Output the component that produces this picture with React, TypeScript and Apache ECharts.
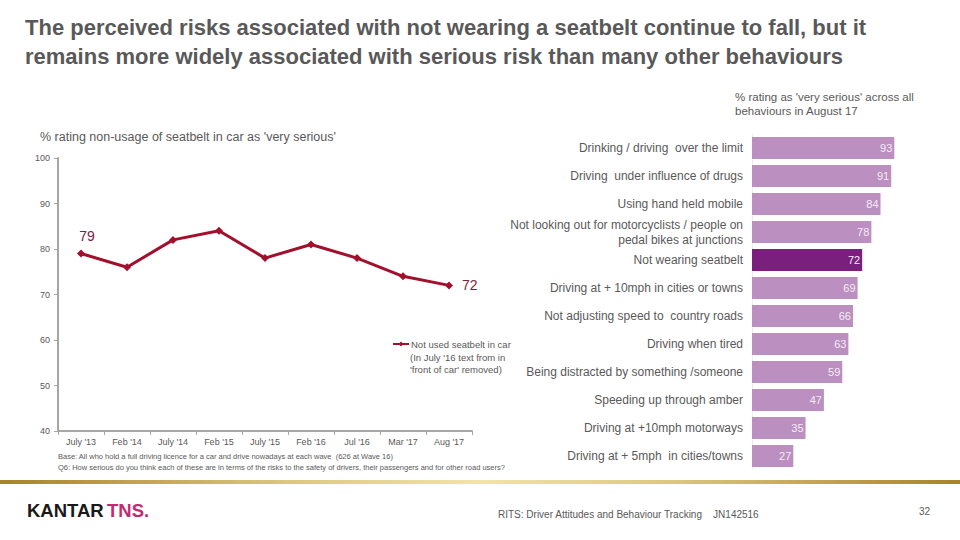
import React, { useEffect, useRef } from "react";
import * as echarts from "echarts";

const waves = ["July '13", "Feb '14", "July '14", "Feb '15", "July '15", "Feb '16", "Jul '16", "Mar '17", "Aug '17"];
const seatbeltValues = [79, 76, 82, 84, 78, 81, 78, 74, 72];
const seriesName = "Not used seatbelt in car";
const seriesNote = "(In July '16 text from in\n'front of car' removed)";

const behaviours = [
  "Drinking / driving  over the limit",
  "Driving  under influence of drugs",
  "Using hand held mobile",
  "Not looking out for motorcyclists / people on\npedal bikes at junctions",
  "Not wearing seatbelt",
  "Driving at + 10mph in cities or towns",
  "Not adjusting speed to  country roads",
  "Driving when tired",
  "Being distracted by something /someone",
  "Speeding up through amber",
  "Driving at +10mph motorways",
  "Driving at + 5mph  in cities/towns",
];
const behaviourValues = [93, 91, 84, 78, 72, 69, 66, 63, 59, 47, 35, 27];
const highlightBehaviour = "Not wearing seatbelt";

const FONT = "'Liberation Sans', Arial, sans-serif";
const GREY = "#595959";

export default function App() {
  const ref = useRef<HTMLDivElement>(null);
  useEffect(() => {
    if (!ref.current) return;
    const chart = echarts.init(ref.current, undefined, { renderer: "svg" });
    const lineData = seatbeltValues.map((v, i) => {
      if (i === 0) {
        return { value: v, label: { show: true, position: "top", offset: [6, -2], fontSize: 14, color: "#7a2340", fontFamily: FONT } };
      }
      if (i === seatbeltValues.length - 1) {
        return { value: v, label: { show: true, position: "right", offset: [4, 0], fontSize: 14, color: "#7a2340", fontFamily: FONT } };
      }
      return v;
    });
    const barData = behaviourValues.map((v, i) => ({
      value: v,
      itemStyle: { color: behaviours[i] === highlightBehaviour ? "#7b1f7e" : "#bb8fbf" },
    }));
    chart.setOption({
      animation: false,
      textStyle: { fontFamily: FONT },
      legend: {
        show: true,
        data: [seriesName],
        left: 392,
        top: 339,
        padding: 0,
        itemWidth: 16,
        itemHeight: 6,
        itemGap: 2,
        textStyle: { fontSize: 9.5, color: GREY, fontFamily: FONT, padding: [0, 0, 0, -3] },
      },
      grid: [
        { left: 58, top: 158, width: 414, height: 273 },
        { left: 752, top: 134, width: 153, height: 336 },
      ],
      xAxis: [
        {
          type: "category",
          gridIndex: 0,
          data: waves,
          boundaryGap: true,
          axisLine: { lineStyle: { color: "#a6a6a6", width: 2 } },
          axisTick: { show: true, lineStyle: { color: "#a6a6a6" }, length: 4 },
          axisLabel: { fontSize: 9, color: GREY, margin: 6, interval: 0 },
        },
        {
          type: "value",
          gridIndex: 1,
          min: 0,
          max: 100,
          show: false,
        },
      ],
      yAxis: [
        {
          type: "value",
          gridIndex: 0,
          min: 40,
          max: 100,
          interval: 10,
          axisLine: { show: true, lineStyle: { color: "#a6a6a6", width: 2 } },
          axisTick: { show: true, lineStyle: { color: "#a6a6a6" }, length: 4 },
          axisLabel: { fontSize: 9, color: GREY, margin: 8 },
          splitLine: { show: false },
        },
        {
          type: "category",
          gridIndex: 1,
          data: behaviours,
          inverse: true,
          axisLine: { show: true, lineStyle: { color: "#e8e8e8", width: 1, type: "dotted" } },
          axisTick: { show: false },
          axisLabel: { fontSize: 12, color: GREY, margin: 9, lineHeight: 15 },
        },
      ],
      series: [
        {
          name: seriesName,
          type: "line",
          xAxisIndex: 0,
          yAxisIndex: 0,
          data: lineData,
          symbol: "diamond",
          symbolSize: 8,
          lineStyle: { color: "#a3102d", width: 3 },
          itemStyle: { color: "#a3102d" },
          label: { show: false },
        },
        {
          type: "bar",
          xAxisIndex: 1,
          yAxisIndex: 1,
          data: barData,
          barWidth: 22,
          label: { show: true, position: "insideRight", distance: 2, fontSize: 11, color: "#f6ecf6" },
        },
      ],
      graphic: [
        {
          type: "text",
          left: 25,
          top: 13,
          style: {
            text: "The perceived risks associated with not wearing a seatbelt continue to fall, but it\nremains more widely associated with serious risk than many other behaviours",
            fontSize: 22,
            fontWeight: "bold",
            fill: GREY,
            lineHeight: 29,
            fontFamily: FONT,
          },
        },
        {
          type: "text",
          left: 410,
          top: 351,
          style: {
            text: seriesNote,
            fontSize: 9.5,
            fill: GREY,
            lineHeight: 12,
            fontFamily: FONT,
          },
        },
        {
          type: "text",
          left: 735,
          top: 90,
          style: {
            text: "% rating as 'very serious' across all\nbehaviours in August 17",
            fontSize: 11.5,
            fill: GREY,
            lineHeight: 14,
            fontFamily: FONT,
          },
        },
        {
          type: "text",
          left: 40,
          top: 130,
          style: {
            text: "% rating non-usage of seatbelt in car as 'very serious'",
            fontSize: 12.5,
            fill: GREY,
            fontFamily: FONT,
          },
        },
        {
          type: "text",
          left: 58,
          top: 451,
          style: {
            text: "Base: All who hold a full driving licence for a car and drive nowadays at each wave  (626 at Wave 16)\nQ6: How serious do you think each of these are in terms of the risks to the safety of drivers, their passengers and for other road users?",
            fontSize: 7.5,
            fill: GREY,
            lineHeight: 11,
            fontFamily: FONT,
          },
        },
        {
          type: "rect",
          shape: { x: 0, y: 480, width: 960, height: 4 },
          style: {
            fill: new echarts.graphic.LinearGradient(0, 0, 1, 0, [
              { offset: 0, color: "#a88328" },
              { offset: 0.3, color: "#dcc77e" },
              { offset: 0.5, color: "#f2e4a6" },
              { offset: 0.7, color: "#dcc77e" },
              { offset: 1, color: "#a88328" },
            ]),
          },
        },
        {
          type: "text",
          left: 27,
          top: 501,
          style: {
            text: "{k|KANTAR} {t|TNS}{d|.}",
            rich: {
              k: { fontSize: 18.5, fontWeight: "bold", fill: "#1a1a1a", fontFamily: FONT },
              t: { fontSize: 18.5, fontWeight: "bold", fill: "#c42a70", fontFamily: FONT },
              d: { fontSize: 18.5, fontWeight: "bold", fill: "#c42a70", fontFamily: FONT },
            },
          },
        },
        {
          type: "text",
          left: 498,
          top: 509,
          style: {
            text: "RITS: Driver Attitudes and Behaviour Tracking    JN142516",
            fontSize: 10,
            fill: GREY,
            fontFamily: FONT,
          },
        },
        {
          type: "text",
          left: 919,
          top: 506,
          style: { text: "32", fontSize: 10, fill: GREY, fontFamily: FONT },
        },
      ],
    });
    return () => chart.dispose();
  }, []);
  return <div ref={ref} style={{ width: 960, height: 540, position: "absolute", left: 0, top: 0 }} />;
}
